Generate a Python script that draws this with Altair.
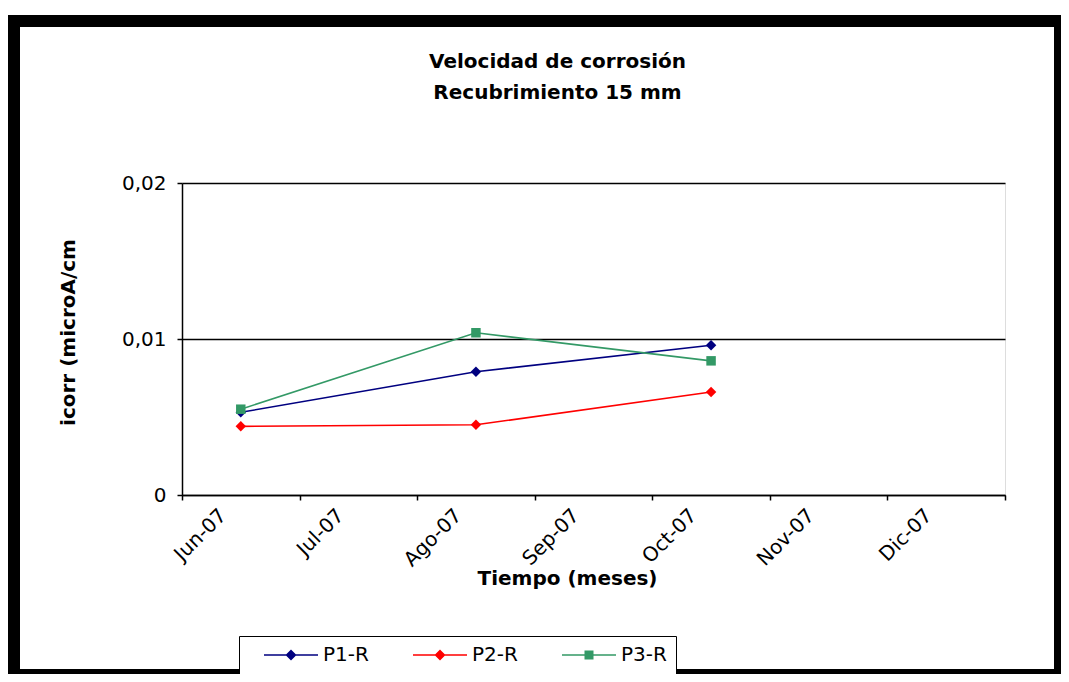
import altair as alt
import pandas as pd

months = ["Jun-07", "Jul-07", "Ago-07", "Sep-07", "Oct-07", "Nov-07", "Dic-07"]
measured_months = ["Jun-07", "Ago-07", "Oct-07"]
series_names = ["P1-R", "P2-R", "P3-R"]
p1_values = [0.0053, 0.0079, 0.0096]
p2_values = [0.0044, 0.0045, 0.0066]
p3_values = [0.0055, 0.0104, 0.0086]
series_colors = ["#000080", "#FF0000", "#339966"]
y_ticks = [0, 0.01, 0.02]

rows = []
for name, vals in zip(series_names, [p1_values, p2_values, p3_values]):
    for m, v in zip(measured_months, vals):
        rows.append({"serie": name, "mes": m, "icorr": v})
df = pd.DataFrame(rows)

FONT = "DejaVu Sans"

x_enc = alt.X(
    "mes:O",
    sort=months,
    scale=alt.Scale(type="band", domain=months, paddingInner=0, paddingOuter=0),
    title="Tiempo (meses)",
    axis=alt.Axis(
        labelAngle=315, labelAlign="right", labelBaseline="middle",
        labelFont=FONT, labelFontSize=20, labelColor="black",
        labelPadding=12, labelOffset=-18, labelOverlap=False, labelBound=False,
        tickBand="extent", tickSize=5, tickColor="black", tickWidth=1.5,
        domainColor="black", domainWidth=1.5, grid=False,
        titleFont=FONT, titleFontSize=20, titleFontWeight="bold", titleColor="black",
        titleX=385, titleY=83, titleBaseline="middle", titleAlign="center",
    ),
)
y_enc = alt.Y(
    "icorr:Q",
    scale=alt.Scale(domain=[0, 0.02], nice=False, zero=True),
    title="icorr (microA/cm",
    axis=alt.Axis(
        values=y_ticks,
        labelExpr="datum.value == 0 ? '0' : replace(format(datum.value, '.2f'), '.', ',')",
        labelFont=FONT, labelFontSize=20, labelColor="black", labelPadding=11,
        labelBaseline="middle", labelFlush=False, labelOverlap=False,
        grid=True, gridColor="black", gridWidth=1.5,
        tickSize=5, tickColor="black", tickWidth=1.5,
        domainColor="black", domainWidth=1.5,
        titleFont=FONT, titleFontSize=20, titleFontWeight="bold", titleColor="black",
        titleX=-114, titleY=149, titleAngle=270, titleBaseline="middle", titleAlign="center",
    ),
)
color_scale = alt.Scale(domain=series_names, range=series_colors)

base = alt.Chart(df)

lines = base.mark_line(strokeWidth=1.6).encode(
    x=x_enc, y=y_enc,
    color=alt.Color("serie:N", scale=color_scale, legend=None),
    detail="serie:N",
)
diamonds = base.transform_filter(
    alt.FieldOneOfPredicate(field="serie", oneOf=["P1-R", "P2-R"])
).mark_point(shape="diamond", filled=True, size=110, opacity=1).encode(
    x=x_enc, y=y_enc,
    color=alt.Color("serie:N", scale=color_scale, legend=None),
)
squares = base.transform_filter(
    alt.FieldEqualPredicate(field="serie", equal="P3-R")
).mark_point(shape="square", filled=True, size=90, opacity=1).encode(
    x=x_enc, y=y_enc,
    color=alt.Color("serie:N", scale=color_scale, legend=None),
)

# legend symbols: line + marker as filled paths (unit radius = 10 px)
line_part = "M0.6,-0.075H6V0.075H0.6Z"
diamond_sym = line_part + " M3.3,-0.55L3.85,0L3.3,0.55L2.75,0Z"
square_sym = line_part + " M2.85,-0.45H3.75V0.45H2.85Z"

leg = alt.Legend(
    orient="none", legendX=57, legendY=453, direction="horizontal",
    strokeColor="black", fillColor="white", padding=9,
    symbolSize=400, symbolStrokeWidth=0,
    labelFont=FONT, labelFontSize=20, labelColor="black",
    labelOffset=55, columnPadding=28,
)
legend_layer = base.transform_filter("false").mark_point(filled=True, opacity=1).encode(
    x=x_enc, y=y_enc,
    color=alt.Color("serie:N", scale=color_scale, legend=leg, title=None),
    shape=alt.Shape("serie:N", scale=alt.Scale(domain=series_names,
                    range=[diamond_sym, diamond_sym, square_sym]), legend=leg, title=None),
)

frame_src = alt.Data(values=[{"k": 0}])


def band(x1, x2, y1, y2):
    return alt.Chart(frame_src).mark_rect(color="black").encode(
        x=alt.value(x1), x2=alt.value(x2), y=alt.value(y1), y2=alt.value(y2)
    )


frame = [
    band(-174, 879, -168, -156),
    band(-174, -162, -168, 491),
    band(872, 879, -168, 491),
    band(-174, 879, 486, 491),
]

chart = alt.layer(lines, diamonds, squares, legend_layer, *frame).resolve_scale(
    color="independent", shape="independent"
).properties(
    width=823, height=312,
    autosize=alt.AutoSizeParams(type="none"),
    padding={"left": 174, "top": 175, "right": 56, "bottom": 179},
    title=alt.TitleParams(
        ["Velocidad de corrosión", "Recubrimiento 15 mm"],
        font=FONT, fontSize=20, fontWeight="bold", color="black",
        lineHeight=31, anchor="middle", frame="group", dx=-36,
        baseline="alphabetic", offset=0, dy=104,
    ),
).configure_view(stroke="black", strokeWidth=1.5).configure(background="white")

chart.save("out.html", embed_options={"renderer": "svg", "actions": False})
